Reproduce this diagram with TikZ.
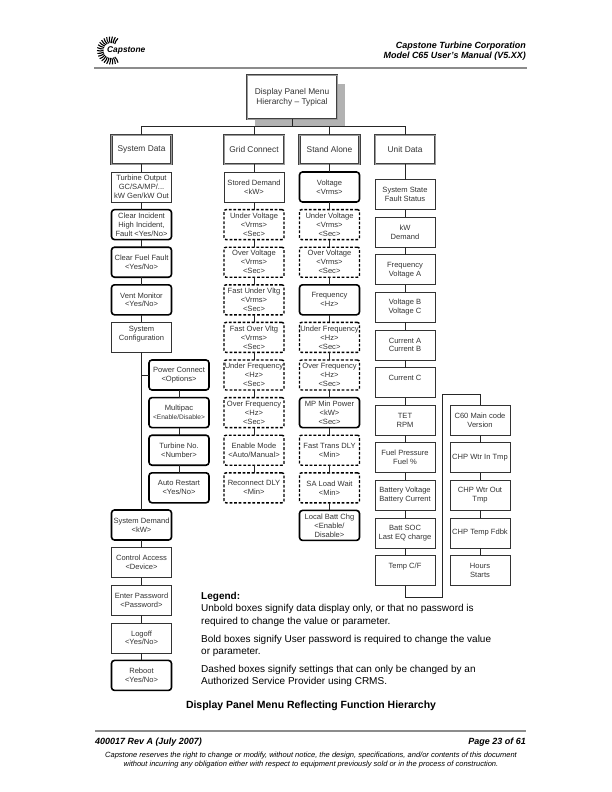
\documentclass[tikz,border=0pt]{standalone}
\usepackage{fontspec}
\setmainfont{Liberation Sans}
\usetikzlibrary{positioning}
\definecolor{rulegray}{gray}{0.55}
\definecolor{boxtext}{gray}{0.2}
\tikzset{
    plainbox/.style={rectangle, draw=black!80, line width=0.6pt, text=boxtext, minimum width=60bp, minimum height=30bp, inner sep=0pt, outer sep=0pt, align=center, font=\fontsize{7.6}{9}\selectfont},
    boldbox/.style={plainbox, draw=black, line width=1.6pt, rounded corners=3pt},
    dashbox/.style={plainbox, draw=black, line width=1.4pt, rounded corners=2pt, dash pattern=on 2.8pt off 1.8pt},
    headbox/.style={plainbox, draw=black!75, line width=0.8pt, double=black!40, double distance=0.8pt, font=\fontsize{8.4}{10}\selectfont},
    link/.style={draw=black!85, line width=0.8pt},
    legendtext/.style={anchor=west, inner sep=0pt, font=\fontsize{10.05}{12}\selectfont},
    pagerule/.style={draw=rulegray, line width=1.3pt}
}
\begin{document}
\begin{tikzpicture}[x=1bp,y=-1bp,node distance=7.6bp]
    \useasboundingbox (0,0) rectangle (612,792);
    % page header
    \node(company) [anchor=east, inner sep=0pt, font=\fontsize{9}{10}\selectfont\bfseries\itshape] at (526,46){Capstone Turbine Corporation};
    \node(manual) [anchor=east, inner sep=0pt, font=\fontsize{9}{10}\selectfont\bfseries\itshape] at (526,56){Model C65 User's Manual (V5.XX)};
    \draw[pagerule] (94,68) -- (527,68);
    % logo
    \foreach \ang in {60,72,...,300}{
        \draw[line width=1.1pt] (111,50.5) ++(\ang:7.5) to[bend left=15] ++(\ang:6.5);
    }
    \node(logo) [anchor=west, inner sep=0pt, fill=white, font=\fontsize{8.4}{9}\selectfont\bfseries\itshape] at (107,50){Capstone};

    % top of the hierarchy
    \fill[black!30] (255,84) rectangle (345,127);
    \node(display) [headbox, minimum width=90bp, minimum height=44bp, fill=white] at (292,97){Display Panel Menu\\Hierarchy -- Typical};
    \coordinate (bus) at (292,126);

    \node(sysdata) [headbox, minimum height=29bp] at (141.5,149.5){System Data};
    \node(grid) [headbox, minimum height=29bp] at (254,149.5){Grid Connect};
    \node(stand) [headbox, minimum height=29bp] at (329.5,149.5){Stand Alone};
    \node(unit) [headbox, minimum height=29bp] at (405,149.5){Unit Data};

    % system data column
    \node(output) [plainbox] at (141.5,187){Turbine Output\\GC/SA/MP/...\\kW Gen/kW Out};
    \node(incident) [boldbox, below=of output]{Clear Incident\\High Incident,\\Fault <Yes/No>};
    \node(fuelfault) [boldbox, below=of incident]{Clear Fuel Fault\\<Yes/No>};
    \node(vent) [boldbox, below=of fuelfault]{Vent Monitor\\<Yes/No>};
    \node(config) [plainbox, below=of vent]{System\\Configuration\\\ };
    \node(power) [boldbox] at (179,375){Power Connect\\<Options>};
    \node(multipac) [boldbox, below=of power]{Multipac\\{\fontsize{6.6}{9}\selectfont<Enable/Disable>}};
    \node(turbine) [boldbox, below=of multipac]{Turbine No.\\<Number>};
    \node(restart) [boldbox, below=of turbine]{Auto Restart\\<Yes/No>};
    \node(demand) [boldbox] at (141.5,525){System Demand\\<kW>};
    \node(access) [plainbox, below=of demand]{Control Access\\<Device>};
    \node(password) [plainbox, below=of access]{Enter Password\\<Password>};
    \node(logoff) [plainbox, below=of password]{Logoff\\<Yes/No>};
    \node(reboot) [boldbox, below=of logoff]{Reboot\\<Yes/No>};

    % grid connect column
    \node(stored) [plainbox] at (254,187){Stored Demand\\<kW>};
    \node(gunder) [dashbox, below=of stored]{Under Voltage\\<Vrms>\\<Sec>};
    \node(gover) [dashbox, below=of gunder]{Over Voltage\\<Vrms>\\<Sec>};
    \node(gfastu) [dashbox, below=of gover]{Fast Under Vltg\\<Vrms>\\<Sec>};
    \node(gfasto) [dashbox, below=of gfastu]{Fast Over Vltg\\<Vrms>\\<Sec>};
    \node(gufreq) [dashbox, below=of gfasto]{Under Frequency\\<Hz>\\<Sec>};
    \node(gofreq) [dashbox, below=of gufreq]{Over Frequency\\<Hz>\\<Sec>};
    \node(enable) [dashbox, below=of gofreq]{Enable Mode\\<Auto/Manual>};
    \node(reconnect) [dashbox, below=of enable]{Reconnect DLY\\<Min>};

    % stand alone column
    \node(voltage) [boldbox] at (329.5,187){Voltage\\<Vrms>};
    \node(sunder) [dashbox, below=of voltage]{Under Voltage\\<Vrms>\\<Sec>};
    \node(sover) [dashbox, below=of sunder]{Over Voltage\\<Vrms>\\<Sec>};
    \node(frequency) [boldbox, below=of sover]{Frequency\\<Hz>};
    \node(sufreq) [dashbox, below=of frequency]{Under Frequency\\<Hz>\\<Sec>};
    \node(sofreq) [dashbox, below=of sufreq]{Over Frequency\\<Hz>\\<Sec>};
    \node(minpower) [boldbox, below=of sofreq]{MP Min Power\\<kW>\\<Sec>};
    \node(fasttrans) [dashbox, below=of minpower]{Fast Trans DLY\\<Min>};
    \node(loadwait) [dashbox, below=of fasttrans]{SA Load Wait\\<Min>};
    \node(battchg) [boldbox, below=of loadwait]{Local Batt Chg\\<Enable/\\Disable>};

    % unit data column
    \node(state) [plainbox] at (405,194.5){System State\\Fault Status};
    \node(kw) [plainbox, below=of state]{kW\\Demand};
    \node(freqa) [plainbox, below=of kw]{Frequency\\Voltage A};
    \node(voltb) [plainbox, below=of freqa]{Voltage B\\Voltage C};
    \node(curra) [plainbox, below=of voltb]{Current A\\Current B};
    \node(currc) [plainbox, below=of curra]{Current C\\\ };
    \node(tet) [plainbox, below=of currc]{TET\\RPM};
    \node(fuelp) [plainbox, below=of tet]{Fuel Pressure\\Fuel \%};
    \node(battv) [plainbox, below=of fuelp]{Battery Voltage\\Battery Current};
    \node(soc) [plainbox, below=of battv]{Batt SOC\\Last EQ charge};
    \node(temp) [plainbox, below=of soc]{Temp C/F\\\ };

    % chp column
    \node(mainver) [plainbox] at (480,420){C60 Main code\\Version};
    \node(wtrin) [plainbox, below=of mainver]{CHP Wtr In Tmp};
    \node(wtrout) [plainbox, below=of wtrin]{CHP Wtr Out\\Tmp};
    \node(fdbk) [plainbox, below=of wtrout]{CHP Temp Fdbk};
    \node(hours) [plainbox, below=of fdbk]{Hours\\Starts};

    % connectors
    \draw[link] (display.south) -- (bus);
    \draw[link] (sysdata.north) |- (bus);
    \draw[link] (grid.north) |- (bus);
    \draw[link] (stand.north) |- (bus);
    \draw[link] (unit.north) |- (bus);
    \draw[link] (sysdata) -- (output) -- (incident) -- (fuelfault) -- (vent) -- (config) -- (demand) -- (access) -- (password) -- (logoff) -- (reboot);
    \coordinate (branch) at (141.5,375);
    \draw[link] (branch) -- (power.west);
    \draw[link] (power) -- (multipac) -- (turbine) -- (restart);
    \draw[link] (grid) -- (stored) -- (gunder) -- (gover) -- (gfastu) -- (gfasto) -- (gufreq) -- (gofreq) -- (enable) -- (reconnect);
    \draw[link] (stand) -- (voltage) -- (sunder) -- (sover) -- (frequency) -- (sufreq) -- (sofreq) -- (minpower) -- (fasttrans) -- (loadwait) -- (battchg);
    \draw[link] (unit) -- (state) -- (kw) -- (freqa) -- (voltb) -- (curra) -- (currc) -- (tet) -- (fuelp) -- (battv) -- (soc) -- (temp);
    \coordinate (wrapa) at (442,597);
    \coordinate (wrapb) at (442,394);
    \draw[link] (temp.south) |- (wrapa) -- (wrapb) -| (mainver.north);
    \draw[link] (mainver) -- (wtrin) -- (wtrout) -- (fdbk) -- (hours);

    % legend
    \node(legend) [legendtext, font=\fontsize{10.05}{12}\selectfont\bfseries] at (201,597){Legend:};
    \node(unbolda) [legendtext] at (201,609){Unbold boxes signify data display only, or that no password is};
    \node(unboldb) [legendtext] at (201,621.5){required to change the value or parameter.};
    \node(bolda) [legendtext] at (201,640){Bold boxes signify User password is required to change the value};
    \node(boldb) [legendtext] at (201,652){or parameter.};
    \node(dasha) [legendtext] at (201,670){Dashed boxes signify settings that can only be changed by an};
    \node(dashb) [legendtext] at (201,682){Authorized Service Provider using CRMS.};

    % caption and page footer
    \node(caption) [inner sep=0pt, font=\fontsize{10.5}{12}\selectfont\bfseries] at (311,706){Display Panel Menu Reflecting Function Hierarchy};
    \draw[pagerule] (95,731) -- (526,731);
    \node(revision) [anchor=west, inner sep=0pt, font=\fontsize{9}{10}\selectfont\bfseries\itshape] at (95,742){400017 Rev A (July 2007)};
    \node(pageno) [anchor=east, inner sep=0pt, font=\fontsize{9}{10}\selectfont\bfseries\itshape] at (526,742){Page 23 of 61};
    \node(notice) [align=center, inner sep=0pt, font=\fontsize{7.55}{9}\selectfont\itshape] at (311,760.5){Capstone reserves the right to change or modify, without notice, the design, specifications, and/or contents of this document\\without incurring any obligation either with respect to equipment previously sold or in the process of construction.};
\end{tikzpicture}
\end{document}
